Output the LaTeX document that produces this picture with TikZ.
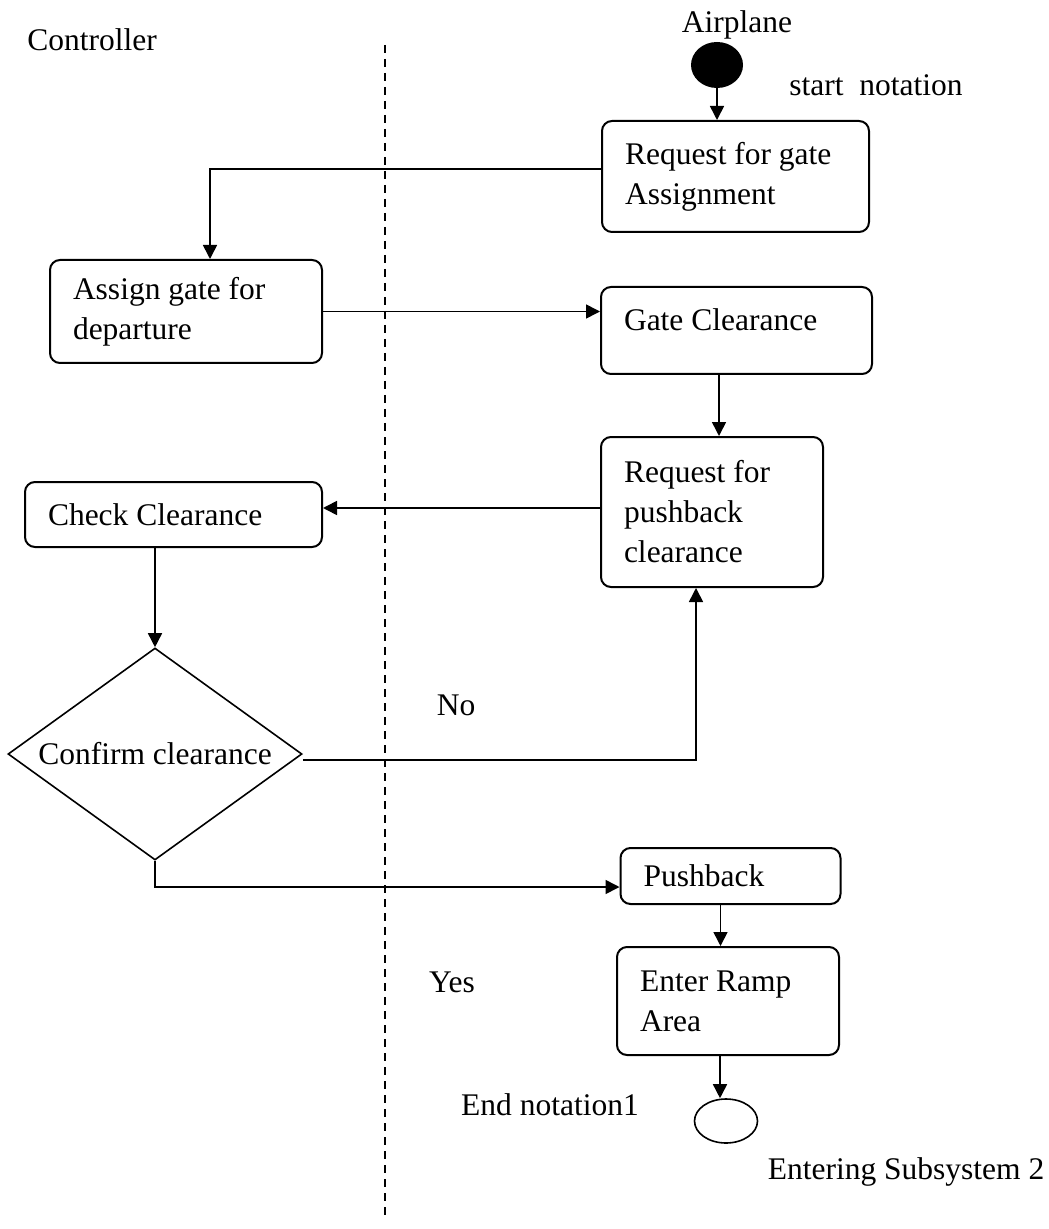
\documentclass[tikz,border=0pt]{standalone}
\usepackage{fontspec}
\setmainfont{Liberation Serif}
\usetikzlibrary{arrows.meta,shapes.geometric}

\begin{document}
\begin{tikzpicture}[x=0.5pt,y=-0.5pt,
        font=\fontsize{15.75pt}{20pt}\selectfont,
        act/.style 2 args={draw,line width=1pt,rounded corners=5pt,align=flush left,
            inner xsep=11.5pt,inner ysep=0pt,text width=#1,minimum height=#2},
        flow/.style={line width=0.8pt,-{Triangle[length=7pt,width=7pt]}},
        lane/.style={line width=0.9pt,dash pattern=on 4pt off 3pt}]
    \useasboundingbox (0,0) rectangle (1048,1229);

    % swimlanes
    \node (ctrl) at (92,40) {Controller};
    \node (plane) at (737,25) {Airplane};
    \coordinate (laneTop) at (385,45);
    \coordinate (laneBot) at (385,1215);
    \draw[lane] (laneTop) -- (laneBot);

    % activities
    \node[ellipse,fill,inner sep=0pt,minimum width=26pt,minimum height=23pt] (startdot) at (717,65) {};
    \node (startlbl) at (876,85) {start\ \ notation};
    \node[act={110.5pt}{55.5pt}] (reqgate) at (735.5,176.5) {Request for gate\\Assignment};
    \node[act={113pt}{51.5pt}] (assign) at (186,311.5) {Assign gate for\\departure};
    \node[act={112.5pt}{43.5pt},text depth=10.5pt] (gate) at (736.5,330.5) {Gate Clearance};
    \node[act={88pt}{75pt}] (reqpush) at (712,512) {Request for\\pushback\\clearance};
    \node[act={125.5pt}{32.5pt}] (check) at (173.5,514.5) {Check Clearance};
    \node[diamond,draw,line width=0.8pt,inner sep=0pt,aspect=1.39,
        minimum width=147pt,minimum height=106pt] (confirm) at (155,754) {Confirm clearance};
    \node (nolbl) at (456,705) {No};
    \node[act={87pt}{28pt}] (push) at (730.5,876) {Pushback};
    \node (yeslbl) at (452,982) {Yes};
    \node[act={88pt}{54pt}] (ramp) at (728,1001) {Enter Ramp\\Area};
    \node[ellipse,draw,line width=0.8pt,inner sep=0pt,minimum width=31.5pt,minimum height=22pt] (enddot) at (726,1121) {};
    \node (endlbl) at (550,1105) {End notation1};
    \node (sublbl) at (906,1172) {Entering Subsystem 2};

    % transitions
    \draw[flow] (startdot.south) -- (startdot.south |- reqgate.north);
    \draw[flow] ([yshift=3.75pt]reqgate.west) -| ([xshift=12pt]assign.north);
    \draw[flow] (assign.east) -- (assign.east -| gate.west);
    \draw[flow] ([xshift=3.5pt]reqpush.north |- gate.south) -- ([xshift=3.5pt]reqpush.north);
    \draw[flow] ([yshift=2pt]reqpush.west) -- ([yshift=2pt]reqpush.west -| check.east);
    \draw[flow] (confirm.north |- check.south) -- (confirm.north);
    \draw[flow] ([yshift=-3pt]confirm.east) -| ([xshift=-8pt]reqpush.south);
    \draw[flow] (confirm.south) |- ([yshift=-5.5pt]push.west);
    \draw[flow] ([xshift=-5pt]push.south) -- ([xshift=-5pt]push.south |- ramp.north);
    \draw[flow] ([xshift=-4pt]ramp.south) -- ([xshift=-4pt]ramp.south |- enddot.north);
\end{tikzpicture}
\end{document}
